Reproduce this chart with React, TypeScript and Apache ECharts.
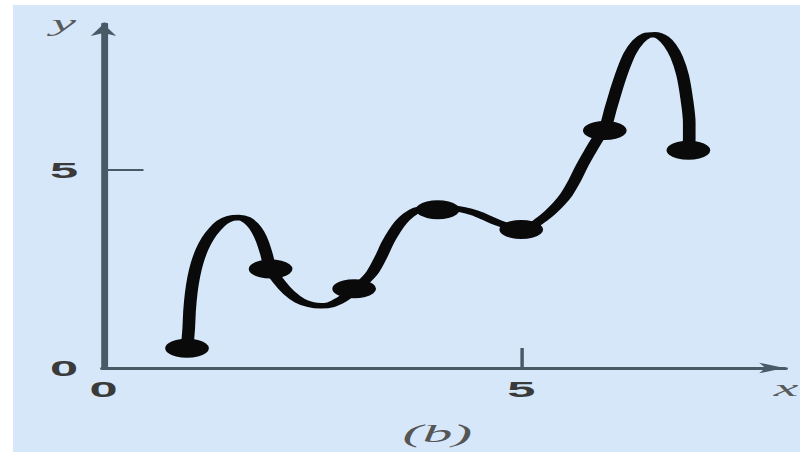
import React, { useEffect, useRef } from "react";
import * as echarts from "echarts";

// ---- data ----
const pointX = [1, 2, 3, 4, 5, 6, 7];
const pointY = [0.5, 2.5, 2, 4, 3.5, 6, 5.5];

const curveX = [
  1.0, 1.02, 1.03, 1.05, 1.08, 1.12, 1.18, 1.25, 1.33, 1.42, 1.52, 1.62, 1.7, 1.78, 1.85, 1.9, 1.95, 2.0,
  2.1, 2.22, 2.35, 2.48, 2.6, 2.72, 2.85, 2.95, 3.0,
  3.1, 3.22, 3.32, 3.4, 3.48, 3.56, 3.65, 3.75, 3.88, 4.0,
  4.15, 4.3, 4.45, 4.6, 4.72, 4.85, 5.0,
  5.12, 5.24, 5.34, 5.45, 5.54, 5.63, 5.72, 5.81, 5.9, 6.0,
  6.07, 6.14, 6.22, 6.3, 6.4, 6.5, 6.6, 6.7, 6.78, 6.86, 6.93, 6.98, 7.01, 7.01, 7.0,
];
const curveY = [
  0.5, 1.0, 1.45, 1.9, 2.3, 2.65, 3.0, 3.28, 3.5, 3.68, 3.78, 3.8, 3.76, 3.63, 3.43, 3.2, 2.88, 2.5,
  2.18, 1.9, 1.7, 1.6, 1.57, 1.6, 1.73, 1.88, 2.0,
  2.15, 2.42, 2.8, 3.16, 3.45, 3.68, 3.86, 3.99, 4.04, 4.02,
  4.04, 4.0, 3.91, 3.78, 3.67, 3.58, 3.52,
  3.58, 3.75, 3.92, 4.15, 4.38, 4.7, 5.08, 5.42, 5.74, 6.05,
  6.55, 7.05, 7.55, 7.95, 8.25, 8.4, 8.42, 8.33, 8.15, 7.85, 7.4, 6.8, 6.2, 5.8, 5.5,
];

const xLabelValues = [0, 5];
const yLabelValues = [0, 5];
const xTickValues = [5];
const yTickValues = [5];

// horizontal stretch of the original picture
const S = 2.3;
const W = 800 / S;

const axisColor = "#4a5966";
const labelColor = "#3a3a3a";

export default function App() {
  const ref = useRef<HTMLDivElement>(null);

  useEffect(() => {
    if (!ref.current) return;
    const chart = echarts.init(ref.current, undefined, { renderer: "svg" });
    const tickFont = {
      fontFamily: "Liberation Sans",
      fontWeight: "bold" as const,
      fontSize: 22,
      color: labelColor,
    };
    const nameFont = {
      fontFamily: "Liberation Serif",
      fontStyle: "italic" as const,
      fontSize: 24,
      color: "#5a5a5a",
    };
    chart.setOption({
      animation: false,
      backgroundColor: "transparent",
      title: {
        text: "(b)",
        left: 175,
        top: 420,
        padding: 0,
        textStyle: {
          fontFamily: "Liberation Serif",
          fontStyle: "italic",
          fontWeight: "normal",
          fontSize: 26,
          color: "#555555",
        },
      },
      grid: {
        left: 103.5 / S,
        top: 24,
        width: 681 / S,
        height: 344,
        containLabel: false,
        outerBoundsMode: "none",
      },
      xAxis: {
        type: "value",
        min: 0,
        max: 8.15,
        name: "x",
        nameLocation: "end",
        nameGap: 0.6,
        nameTextStyle: { ...nameFont, align: "center", verticalAlign: "top", padding: [8, 0, 0, 0] },
        axisLine: {
          show: true,
          symbol: ["none", "arrow"],
          symbolSize: [8, 11],
          lineStyle: { color: axisColor, width: 3 },
        },
        axisTick: {
          show: true,
          inside: true,
          length: 20,
          customValues: xTickValues,
          lineStyle: { color: axisColor, width: 1.5 },
        },
        axisLabel: { ...tickFont, margin: 10, customValues: xLabelValues },
        splitLine: { show: false },
      },
      yAxis: {
        type: "value",
        min: 0,
        max: 8.69,
        name: "y",
        nameLocation: "end",
        nameGap: 1,
        nameTextStyle: { ...nameFont, align: "right", verticalAlign: "middle", padding: [0, 12, 0, 0] },
        axisLine: {
          show: true,
          symbol: ["none", "arrow"],
          symbolSize: [8.3, 12],
          lineStyle: { color: axisColor, width: 3 },
        },
        axisTick: {
          show: true,
          inside: true,
          length: 17.4,
          customValues: yTickValues,
          lineStyle: { color: axisColor, width: 2 },
        },
        axisLabel: { ...tickFont, margin: 11, customValues: yLabelValues },
        splitLine: { show: false },
      },
      series: [
        {
          type: "line",
          data: curveX.map((x, i) => [x, curveY[i]]),
          smooth: 0.3,
          showSymbol: false,
          lineStyle: { color: "#0a0a0a", width: 5.5, cap: "round", join: "round", opacity: 1 },
          z: 2,
        },
        {
          type: "scatter",
          data: pointX.map((x, i) => [x, pointY[i]]),
          symbol: "circle",
          symbolSize: 19,
          itemStyle: { color: "#0a0a0a", opacity: 1 },
          z: 3,
        },
      ],
    });
    return () => chart.dispose();
  }, []);

  return (
    <div style={{ position: "fixed", left: 0, top: 0, width: 800, height: 455, background: "#ffffff", overflow: "hidden" }}>
      <div style={{ position: "absolute", left: 13, top: 5, width: 787, height: 447, background: "#d5e7f9" }} />
      <div
        ref={ref}
        style={{
          position: "absolute",
          left: 0,
          top: 0,
          width: W,
          height: 455,
          transform: `scaleX(${S})`,
          transformOrigin: "0 0",
        }}
      />
    </div>
  );
}
